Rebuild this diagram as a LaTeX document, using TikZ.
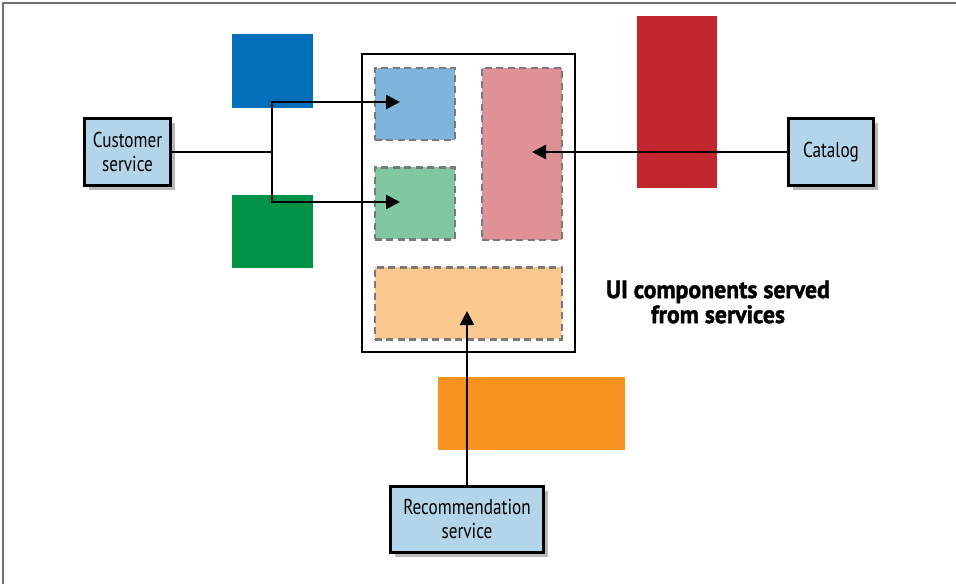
\documentclass[tikz,border=0pt]{standalone}
\usepackage{fontspec}
\setmainfont{PT Sans}[FakeStretch=0.8]
\newfontfamily\titlefont{PT Sans Bold}[FakeStretch=0.95, FakeBold=1.6]
\usetikzlibrary{shadows,arrows.meta}
\definecolor{cblue}{HTML}{0070BB}
\definecolor{cgreen}{HTML}{009245}
\definecolor{cred}{HTML}{C1272D}
\definecolor{corange}{HTML}{F7931E}
\definecolor{lblue}{HTML}{7FB5DB}
\definecolor{lgreen}{HTML}{80C8A0}
\definecolor{lpink}{HTML}{E09195}
\definecolor{lpeach}{HTML}{FBC98E}
\definecolor{svcfill}{HTML}{B2D5EA}
\definecolor{dashgray}{HTML}{7A7A7A}
\definecolor{framegray}{HTML}{707070}
\begin{document}
\begin{tikzpicture}[x=1pt,y=-1pt,
  solid block/.style={draw=none, inner sep=0pt, anchor=north west},
  part/.style={draw=dashgray, line width=2.6pt, dash pattern=on 7pt off 4.5pt, inner sep=0pt, anchor=north west},
  svc/.style={draw=black, line width=3.3pt, fill=svcfill, inner sep=0pt, align=center,
    font=\fontsize{21.5}{24}\selectfont,
    drop shadow={shadow xshift=4pt, shadow yshift=-4pt, opacity=0.28, fill=black}},
  frame/.style={draw=black, line width=2.4pt, fill=white, inner sep=0pt, anchor=north west},
  link/.style={draw=black, line width=2.6pt},
  arr/.style={link, -{Triangle[length=14pt,width=14pt]}}
]
\useasboundingbox (0,0) rectangle (956,584);
\draw[framegray, line width=1.4pt] (3,584) -- (3,3) -- (956,3);

% service colour blocks
\node[solid block, fill=cblue, minimum width=81pt, minimum height=74pt] (bluesq) at (232,34) {};
\node[solid block, fill=cgreen, minimum width=81pt, minimum height=73pt] (greensq) at (232,195) {};
\node[solid block, fill=cred, minimum width=80pt, minimum height=172pt] (redsq) at (637,16) {};
\node[solid block, fill=corange, minimum width=187pt, minimum height=73pt] (orangesq) at (438,377) {};

% page frame
\node[frame, minimum width=213pt, minimum height=298pt] (page) at (361,53) {};

% UI components
\node[part, fill=lblue, minimum width=80pt, minimum height=72pt] (pblue) at (373.5,66.5) {};
\node[part, fill=lgreen, minimum width=80pt, minimum height=72pt] (pgreen) at (373.5,166) {};
\node[part, fill=lpink, minimum width=80pt, minimum height=172pt] (ppink) at (480.5,66.5) {};
\node[part, fill=lpeach, minimum width=187pt, minimum height=72pt] (ppeach) at (373.5,266) {};

% services
\node[svc, minimum width=86pt, minimum height=67pt] (cust) at (127.5,152) {Customer\\service};
\node[svc, minimum width=85pt, minimum height=67pt] (cat) at (831,152) {Catalog};
\node[svc, minimum width=153pt, minimum height=66pt] (rec) at (467,519.5) {Recommendation\\service};

% title
\node[font=\titlefont\fontsize{25}{25}\selectfont, align=center, inner sep=0pt] (title) at (718,302) {UI components served\\from services};

% connectors
\coordinate (jn) at (272,152);
\coordinate (tipblue) at (400,102);
\coordinate (tipgreen) at (400,202);
\coordinate (tippink) at (532,152);
\coordinate (tippeach) at (467,311);
\draw[link] (cust.east) -- (jn);
\draw[arr] (jn) |- (tipblue);
\draw[arr] (jn) |- (tipgreen);
\draw[arr] (cat.west) -- (tippink);
\draw[arr] (rec.north) -- (tippeach);
\end{tikzpicture}
\end{document}
